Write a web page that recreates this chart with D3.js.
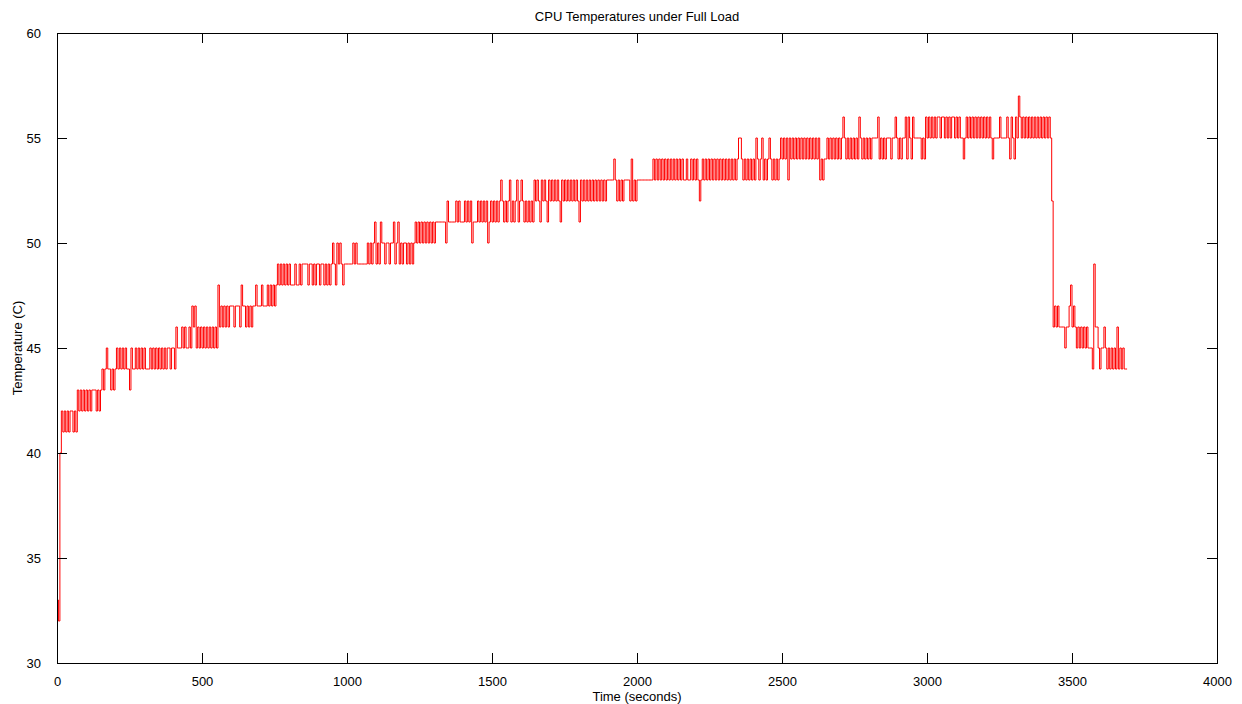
<!DOCTYPE html>
<html>
<head>
<meta charset="utf-8">
<script src="https://cdn.jsdelivr.net/npm/d3@7"></script>
<style>
  html, body { margin: 0; padding: 0; background: #fff; }
  svg { display: block; }
  text { font-family: "Liberation Sans", Arial, Helvetica, sans-serif; fill: #000; }
</style>
</head>
<body>
<svg id="chart" width="1242" height="704"></svg>
<script>
// CPU temperature log, one reading every 5 seconds (degrees C)
const sampleStep = 5;
const temperatures = [
  33,32,40,42,41,42,41,42,41,42,42,41,42,41,43,42,43,42,43,42,
  43,42,43,42,43,43,43,42,43,42,43,44,43,44,45,44,44,43,44,43,
  44,45,44,45,44,45,44,45,44,44,43,45,44,44,45,44,45,44,45,44,
  45,44,44,44,45,44,45,44,45,44,45,44,45,44,45,44,45,45,44,45,
  45,44,46,45,45,45,46,45,46,45,45,46,45,47,46,47,45,46,45,46,
  45,46,45,46,45,46,45,46,45,46,45,48,46,47,46,47,46,47,46,47,
  47,47,46,47,47,47,46,48,47,47,46,47,46,47,46,47,47,48,47,47,
  47,48,47,47,47,48,47,48,47,48,47,48,49,48,49,48,49,48,49,48,
  49,48,48,48,49,48,48,49,48,49,49,49,49,48,49,49,48,49,48,49,
  49,48,49,49,48,49,48,49,48,49,50,49,48,50,49,50,49,48,49,49,
  49,49,49,49,50,49,50,49,49,49,49,49,49,49,50,49,50,49,50,51,
  49,50,49,51,50,50,49,50,50,49,50,50,51,49,50,51,49,50,49,50,
  50,49,50,49,50,49,50,51,50,51,50,51,50,51,50,51,50,51,50,51,
  50,51,51,51,51,51,51,51,50,52,51,51,51,51,51,52,51,52,51,51,
  51,52,51,52,51,52,50,51,51,51,52,51,52,51,52,51,52,50,51,52,
  51,52,51,52,51,52,53,52,51,52,51,52,53,51,52,51,52,53,51,52,
  53,52,51,52,51,52,51,52,51,53,52,53,52,51,53,52,53,52,51,53,
  52,53,52,53,52,53,52,51,53,52,53,52,53,52,53,52,53,52,53,52,
  51,53,52,53,52,53,52,53,52,53,52,53,52,53,52,53,52,53,52,53,
  53,53,53,53,54,53,52,53,52,53,52,53,53,53,53,52,54,52,53,52,
  53,53,53,53,53,53,53,53,53,53,53,54,53,54,53,54,53,54,53,54,
  53,54,53,54,53,54,53,54,53,54,53,54,53,53,54,53,53,54,53,54,
  53,54,53,52,53,54,53,54,53,54,53,54,53,54,53,54,53,54,53,54,
  53,54,53,54,53,54,53,54,53,54,55,55,54,53,54,53,54,53,54,53,
  54,53,55,54,53,54,55,53,54,53,54,55,54,53,54,53,54,53,54,55,
  54,55,54,55,53,55,54,55,54,55,54,55,54,55,54,55,54,55,54,55,
  54,55,54,55,54,55,53,54,53,54,54,55,54,55,54,55,54,55,54,55,
  54,55,56,55,54,55,54,55,54,55,54,55,54,56,55,54,55,54,55,54,
  55,54,55,55,55,55,56,54,55,54,55,54,55,55,55,54,55,55,56,55,
  54,55,54,55,55,56,54,56,55,54,56,55,55,55,55,55,54,55,54,56,
  55,56,55,56,55,56,55,56,56,55,56,56,55,56,55,56,55,56,56,55,
  56,55,56,55,55,54,55,56,55,56,55,56,55,56,55,56,55,56,55,56,
  55,56,55,56,55,54,55,55,55,55,56,55,55,55,55,56,55,54,56,55,
  54,56,55,57,56,55,56,55,56,55,56,55,56,55,56,55,56,55,56,55,
  56,55,56,55,56,55,52,46,47,46,47,46,46,46,46,45,46,46,47,48,
  46,47,46,45,46,45,46,45,46,45,46,45,45,45,44,49,46,46,45,44,
  45,45,46,45,44,45,44,45,44,45,44,46,44,45,44,45,44,44,44
];
const xTicks = [0, 500, 1000, 1500, 2000, 2500, 3000, 3500, 4000];
const yTicks = [30, 35, 40, 45, 50, 55, 60];
const titleText = "CPU Temperatures under Full Load";
const xLabelText = "Time (seconds)";
const yLabelText = "Temperature (C)";

const series = temperatures.map((v, i) => ({ t: i * sampleStep, v }));

const svg = d3.select("#chart");
const plot = { left: 57, top: 33, right: 1217, bottom: 663 };
const tickLen = 10;

const x = d3.scaleLinear().domain([0, 4000]).range([plot.left, plot.right]);
const y = d3.scaleLinear().domain([30, 60]).range([plot.bottom, plot.top]);

// data line: readings hold until the next sample, so changes show as vertical jumps
const line = d3.line().curve(d3.curveStepAfter).x(d => x(d.t)).y(d => y(d.v));
svg.append("path")
  .datum(series)
  .attr("d", line)
  .attr("fill", "none")
  .attr("stroke", "#ff0000")
  .attr("stroke-width", 1);

// box axes with inward ticks on all four sides
const axisG = svg.append("g").attr("shape-rendering", "crispEdges");
axisG.append("rect")
  .attr("x", plot.left).attr("y", plot.top)
  .attr("width", plot.right - plot.left).attr("height", plot.bottom - plot.top)
  .attr("fill", "none").attr("stroke", "#000").attr("stroke-width", 1);

const bottomAxis = d3.axisBottom(x).tickValues(xTicks).tickSize(-tickLen).tickPadding(tickLen + 4).tickFormat(d3.format("d"));
const topAxis = d3.axisTop(x).tickValues(xTicks).tickSize(-tickLen).tickFormat("");
const leftAxis = d3.axisLeft(y).tickValues(yTicks).tickSize(-tickLen).tickPadding(tickLen + 6).tickFormat(d3.format("d"));
const rightAxis = d3.axisRight(y).tickValues(yTicks).tickSize(-tickLen).tickFormat("");

function styleAxis(g) {
  g.select(".domain").remove();
  g.selectAll(".tick line").attr("stroke", "#000");
  g.selectAll(".tick text")
    .style("font-family", '"Liberation Sans", Arial, Helvetica, sans-serif')
    .style("font-size", "13px")
    .attr("fill", "#000");
}

axisG.append("g").attr("transform", `translate(0,${plot.bottom})`).call(bottomAxis).call(styleAxis);
axisG.append("g").attr("transform", `translate(0,${plot.top})`).call(topAxis).call(styleAxis);
axisG.append("g").attr("transform", `translate(${plot.left},0)`).call(leftAxis).call(styleAxis);
axisG.append("g").attr("transform", `translate(${plot.right},0)`).call(rightAxis).call(styleAxis);

// titles
svg.append("text")
  .attr("x", (plot.left + plot.right) / 2).attr("y", 21)
  .attr("text-anchor", "middle").style("font-size", "13px")
  .text(titleText);

svg.append("text")
  .attr("x", (plot.left + plot.right) / 2).attr("y", 701)
  .attr("text-anchor", "middle").style("font-size", "13px")
  .text(xLabelText);

svg.append("text")
  .attr("transform", `translate(22,${(plot.top + plot.bottom) / 2}) rotate(-90)`)
  .attr("text-anchor", "middle").style("font-size", "13px")
  .text(yLabelText);
</script>
</body>
</html>
